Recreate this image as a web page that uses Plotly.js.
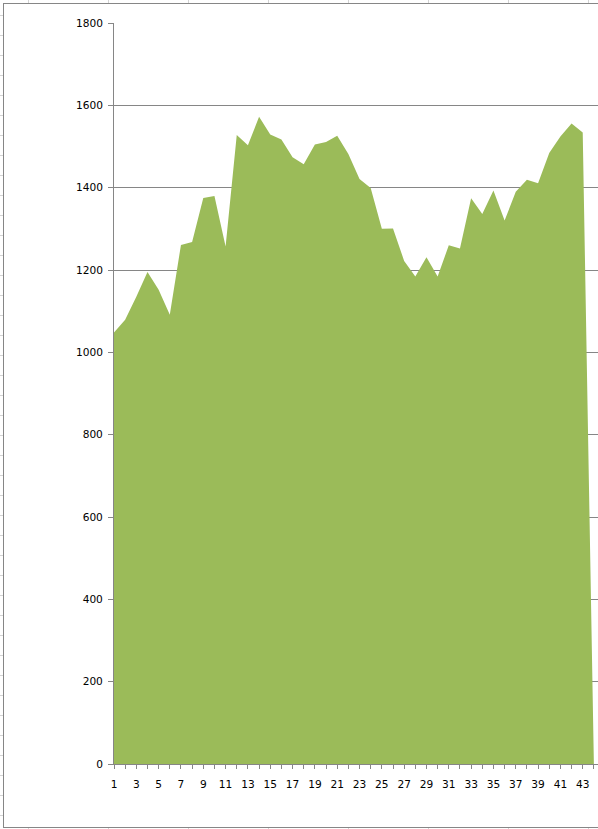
<!DOCTYPE html>
<html>
<head>
<meta charset="utf-8">
<script src="https://cdn.plot.ly/plotly-3.0.1.min.js"></script>
<style>
  html, body { margin: 0; padding: 0; width: 598px; height: 829px; overflow: hidden; background: #ffffff; }
  #sheet {
    position: absolute; left: 0; top: 0; width: 598px; height: 829px;
    background-image:
      repeating-linear-gradient(to right, transparent 0px, transparent 28px, #d4d4d4 28px, #d4d4d4 29px, transparent 29px, transparent 80px),
      repeating-linear-gradient(to bottom, transparent 0px, transparent 15px, #d4d4d4 15px, #d4d4d4 16px, transparent 16px, transparent 20px);
    background-size: 80px 100%, 100% 20px;
  }
  #frame {
    position: absolute; left: 3px; top: 3px; width: 600px; height: 823px;
    background: #ffffff; border-left: 1px solid #868686; border-top: 1px solid #868686; border-bottom: 1px solid #868686;
  }
  #chart { position: absolute; left: 0; top: 0; width: 598px; height: 829px; }
</style>
</head>
<body>
<div id="sheet"></div>
<div id="frame"></div>
<div id="chart"></div>
<script>
const categories = [1,2,3,4,5,6,7,8,9,10,11,12,13,14,15,16,17,18,19,20,21,22,23,24,25,26,27,28,29,30,31,32,33,34,35,36,37,38,39,40,41,42,43,44];
const values = [1048,1079,1135,1195,1152,1091,1261,1268,1375,1380,1257,1528,1503,1572,1529,1517,1474,1457,1505,1511,1526,1482,1421,1399,1300,1301,1222,1184,1231,1184,1260,1252,1374,1336,1393,1320,1390,1419,1411,1484,1524,1556,1534,0];
const yTicks = [0,200,400,600,800,1000,1200,1400,1600,1800];

const trace = {
  x: categories,
  y: values,
  type: 'scatter',
  mode: 'lines',
  fill: 'tozeroy',
  fillcolor: '#9BBB59',
  line: { width: 0, color: '#9BBB59' },
  hoverinfo: 'skip'
};

const axisGray = '#868686';
const tickFont = { family: 'DejaVu Sans, sans-serif', size: 10.6, color: '#000000' };
const layout = {
  width: 598,
  height: 829,
  paper_bgcolor: 'rgba(0,0,0,0)',
  plot_bgcolor: 'rgba(0,0,0,0)',
  margin: { l: 114, r: 0, t: 23, b: 64.5, pad: 0 },
  showlegend: false,
  font: tickFont,
  xaxis: {
    type: 'linear',
    range: [1, 1 + (598 - 114) / 11.16],
    tick0: 1,
    dtick: 2,
    ticks: 'outside',
    ticklen: 4,
    tickcolor: axisGray,
    showline: true,
    linecolor: axisGray,
    linewidth: 1,
    showgrid: false,
    zeroline: false,
    ticklabelstandoff: 6,
    tickfont: tickFont,
    minor: { dtick: 1, tick0: 1, ticks: 'outside', ticklen: 4, tickcolor: axisGray, showgrid: false }
  },
  yaxis: {
    range: [0, 1800],
    tickvals: yTicks,
    ticktext: yTicks.map(String),
    ticks: 'outside',
    ticklen: 5,
    tickcolor: axisGray,
    showline: true,
    linecolor: axisGray,
    linewidth: 1,
    showgrid: true,
    gridcolor: axisGray,
    gridwidth: 1,
    zeroline: false,
    ticklabelstandoff: 3,
    tickfont: tickFont
  }
};

Plotly.newPlot('chart', [trace], layout, { staticPlot: true, displayModeBar: false });
</script>
</body>
</html>
